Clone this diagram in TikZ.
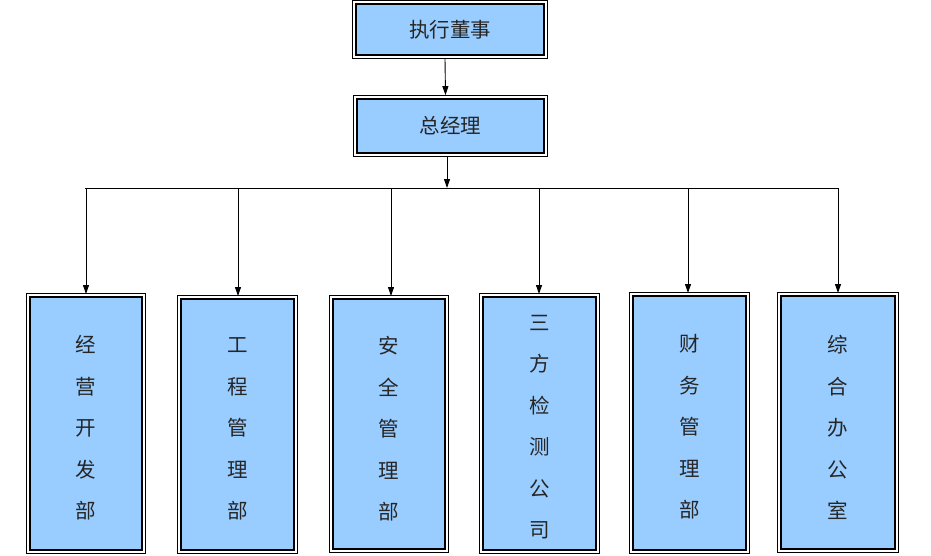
\documentclass[tikz,border=0pt]{standalone}
\usepackage{fontspec}
\newfontfamily\cjk{Noto Sans CJK SC}
\usetikzlibrary{arrows.meta}
\tikzset{
  x=1pt,y=-1pt,
  inbox/.style={draw=black,line width=1.8pt,fill=boxblue,inner sep=0pt,minimum width=#1},
  lbl/.style={font=\cjk\fontsize{20.5}{41.5}\selectfont,align=center,text=black!85},
  arr/.style={line width=0.9pt,-{Triangle[length=9pt,width=6pt]}},
  ln/.style={line width=0.9pt},
  outer/.style={line width=0.9pt,draw=black}
}
\definecolor{boxblue}{HTML}{99CCFF}
\newcommand{\outerof}[1]{\draw[outer] ([shift={(-3pt,3pt)}]#1.north west) rectangle ([shift={(3pt,-3pt)}]#1.south east);}
\begin{document}
\begin{tikzpicture}
\useasboundingbox (0,0) rectangle (931,555);
% top boxes
\node[inbox=188pt,minimum height=51pt] (ceo) at (450,29.5) {};
\node[lbl] at (ceo) {执行董事};
\outerof{ceo}
\node[inbox=187pt,minimum height=54pt] (gm) at (450.5,126) {};
\node[lbl] at (gm) {总经理};
\outerof{gm}
% department boxes
\node[inbox=112pt,minimum height=253pt] (d1) at (86,423.5) {};
\node[inbox=113pt,minimum height=251pt] (d2) at (237.5,424.5) {};
\node[inbox=112pt,minimum height=250pt] (d3) at (389,424) {};
\node[inbox=113pt,minimum height=253pt] (d4) at (539.5,423.5) {};
\node[inbox=113pt,minimum height=254pt] (d5) at (689.5,423) {};
\node[inbox=114pt,minimum height=253pt] (d6) at (838,422.5) {};
\foreach \n in {d1,d2,d3,d4,d5,d6}{\outerof{\n}}
\node[lbl] (t1) at (86,428) {经\\营\\开\\发\\部};
\node[lbl] (t2) at (237.5,429) {工\\程\\管\\理\\部};
\node[lbl] (t3) at (389,429) {安\\全\\管\\理\\部};
\node[lbl] (t4) at (539.5,427) {三\\方\\检\\测\\公\\司};
\node[lbl] (t5) at (689.5,427) {财\\务\\管\\理\\部};
\node[lbl] (t6) at (838,427.5) {综\\合\\办\\公\\室};
% connectors
\draw[arr] ([xshift=-5pt,yshift=-3pt]ceo.south) -- ([xshift=-5pt,yshift=3pt]gm.north);
\coordinate (busL) at (85,188);
\coordinate (busR) at (838,188);
\draw[arr] ([xshift=-3.5pt,yshift=-3pt]gm.south) -- ([xshift=-3.5pt]gm.south |- busL);
\draw[ln] (busL) -- (busR);
\draw[arr] (86,188) -- (86,294);
\draw[arr] (238,188) -- (238,296);
\draw[arr] (391,188) -- (391,296);
\draw[arr] (539,188) -- (539,294);
\draw[arr] (688,188) -- (688,293);
\draw[arr] (838,188) -- (838,293);
\end{tikzpicture}
\end{document}
